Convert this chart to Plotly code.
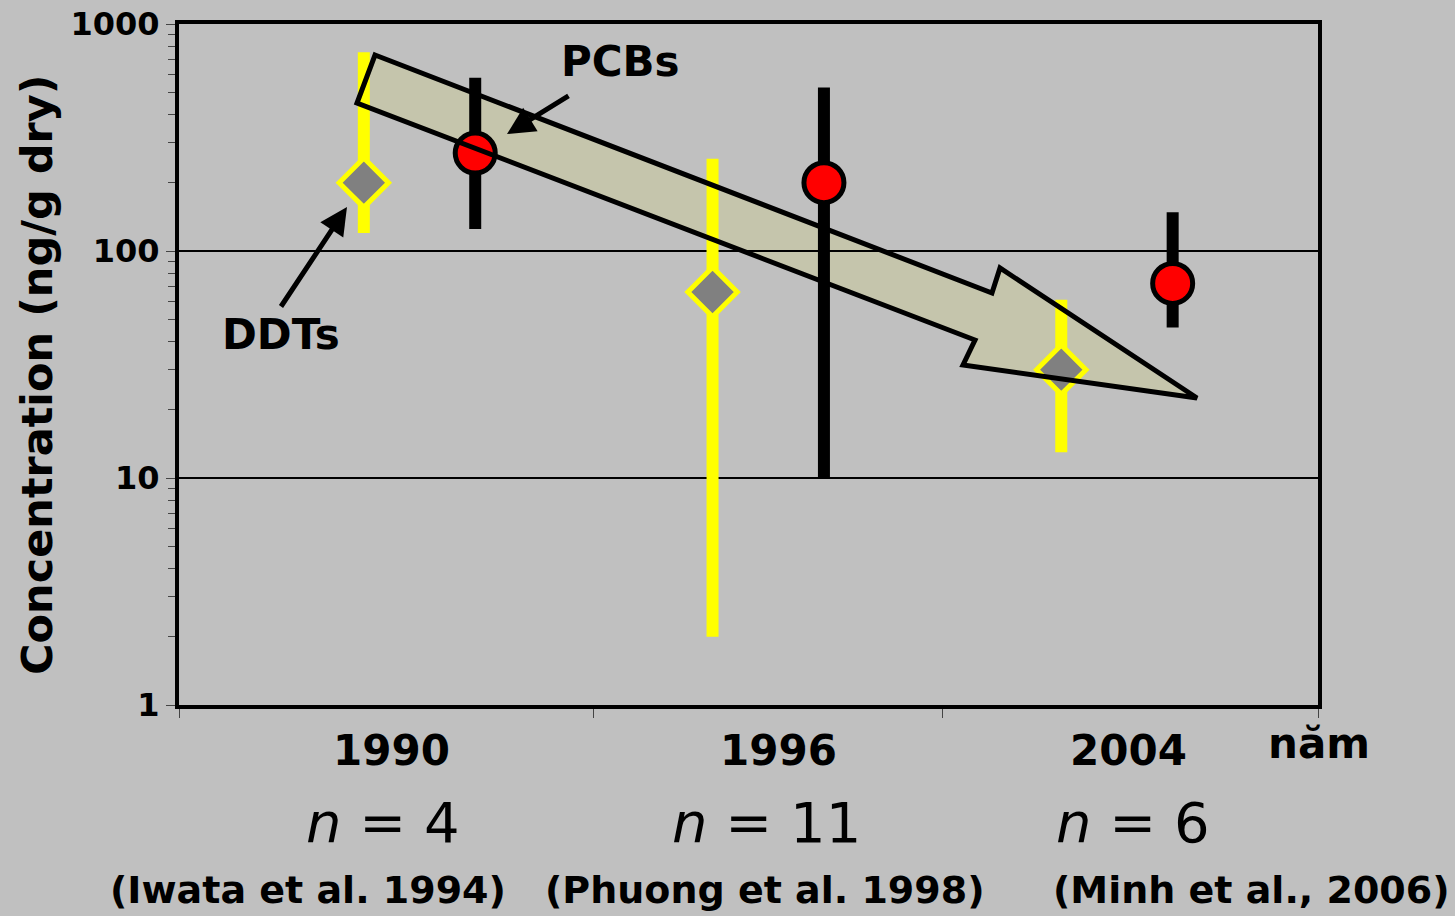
import plotly.graph_objects as go

# ---------------- data ----------------
years = ["1990", "1996", "2004"]
n_samples = [4, 11, 6]
references = ["(Iwata et al. 1994)", "(Phuong et al. 1998)", "(Minh et al., 2006)"]

ddt_mean = [200, 66, 30]
ddt_low = [120, 2, 13]
ddt_high = [750, 255, 61]

pcb_mean = [270, 200, 72]
pcb_low = [125, 10, 46]
pcb_high = [580, 525, 148]

y_ticks = [1, 10, 100, 1000]

# ---------------- layout constants ----------------
W_FIG, H_FIG = 1455, 916
L, R, T, B = 179, 1318, 24, 705
PW, PH = R - L, B - T
FONT = "DejaVu Sans"
BG = "#C0C0C0"

# group placement (axis units, x range 0..3)
start, step, off = 0.6335, 0.9185, 0.1467
centers = [start + i * step for i in range(len(years))]
x_ddt = [c - off for c in centers]
x_pcb = [c + off for c in centers]
boundaries = [0] + [c + step / 2 for c in centers[:-1]] + [3]
minor_vals = [m * 10 ** e for e in range(3) for m in range(2, 10)]


def paper(px, py):
    return (px - L) / PW, (B - py) / PH


fig = go.Figure()

fig.add_trace(go.Scatter(
    x=x_ddt, y=ddt_mean, mode="markers", name="DDTs",
    marker=dict(symbol="diamond", size=38, color="#808080",
                line=dict(color="#FFFF00", width=5)),
    error_y=dict(type="data", symmetric=False,
                 array=[h - m for h, m in zip(ddt_high, ddt_mean)],
                 arrayminus=[m - l for m, l in zip(ddt_mean, ddt_low)],
                 color="#FFFF00", thickness=12, width=0),
    showlegend=False,
))

fig.add_trace(go.Scatter(
    x=x_pcb, y=pcb_mean, mode="markers", name="PCBs",
    marker=dict(symbol="circle", size=40, color="#FF0000",
                line=dict(color="#000000", width=5)),
    error_y=dict(type="data", symmetric=False,
                 array=[h - m for h, m in zip(pcb_high, pcb_mean)],
                 arrayminus=[m - l for m, l in zip(pcb_mean, pcb_low)],
                 color="#000000", thickness=12, width=0),
    showlegend=False,
))

# ---------------- big trend arrow ----------------
arrow_px = [(375, 55), (992, 293), (1000, 268), (1197, 398),
            (963, 365), (975, 340), (357, 103)]
pts = [paper(x, y) for x, y in arrow_px]
path = "M " + " L ".join(f"{x:.5f},{y:.5f}" for x, y in pts) + " Z"
fig.add_shape(type="path", path=path, xref="paper", yref="paper",
              fillcolor="rgb(197,197,170)", opacity=0.92,
              line=dict(width=0), layer="between")
fig.add_shape(type="path", path=path, xref="paper", yref="paper",
              fillcolor="rgba(0,0,0,0)",
              line=dict(color="black", width=5), layer="above")

annotations = []


def label(px, py, text, size, angle=0):
    x0, y0 = paper(px, py)
    annotations.append(dict(x=x0, y=y0, xref="paper", yref="paper", text=text,
                            showarrow=False, xanchor="center", yanchor="middle",
                            textangle=angle,
                            font=dict(family=FONT, size=size, color="black")))


def pointer(tip, tail):
    x0, y0 = paper(*tip)
    annotations.append(dict(x=x0, y=y0, xref="paper", yref="paper", text="",
                            showarrow=True, ax=tail[0] - tip[0], ay=tail[1] - tip[1],
                            arrowhead=2, arrowsize=1.1, arrowwidth=5,
                            arrowcolor="black", standoff=0))


pointer((507, 134), (570, 95))
pointer((347, 207), (280, 308))
label(620, 62, "<b>PCBs</b>", 42)
label(281, 334, "<b>DDTs</b>", 42)

# category labels below the axis
year_px = [391, 778, 1128]
n_px = [383, 766, 1133]
ref_px = [308, 765, 1251]
for i in range(len(years)):
    label(year_px[i], 750, f"<b>{years[i]}</b>", 42)
    label(n_px[i], 822, f"<i>n</i> = {n_samples[i]}", 56)
    label(ref_px[i], 890, f"<b>{references[i]}</b>", 38)

label(1319, 743, "<b>năm</b>", 42)
label(37, 375, "<b>Concentration (ng/g dry)</b>", 43, angle=-90)

fig.update_layout(
    width=W_FIG, height=H_FIG,
    margin=dict(l=L, r=W_FIG - R, t=T, b=H_FIG - B, autoexpand=False),
    paper_bgcolor=BG, plot_bgcolor=BG,
    annotations=annotations,
    xaxis=dict(range=[0, 3], showgrid=False, zeroline=False,
               showline=True, linecolor="black", linewidth=4, mirror=True,
               tickmode="array", tickvals=boundaries, showticklabels=False,
               ticks="outside", ticklen=9, tickwidth=1, tickcolor="#444"),
    yaxis=dict(type="log", range=[0, 3], tickmode="array", tickvals=y_ticks,
               ticktext=[f"<b>{v}</b>" for v in y_ticks],
               tickfont=dict(family=FONT, size=32, color="black"),
               showgrid=True, gridcolor="black", gridwidth=2, zeroline=False,
               showline=True, linecolor="black", linewidth=4, mirror=True,
               ticks="outside", ticklen=9, tickwidth=1, tickcolor="#444",
               minor=dict(tickmode="array", tickvals=minor_vals,
                          ticks="outside", ticklen=7, tickwidth=1,
                          tickcolor="#444", showgrid=False)),
)

fig.write_html("out.html")
